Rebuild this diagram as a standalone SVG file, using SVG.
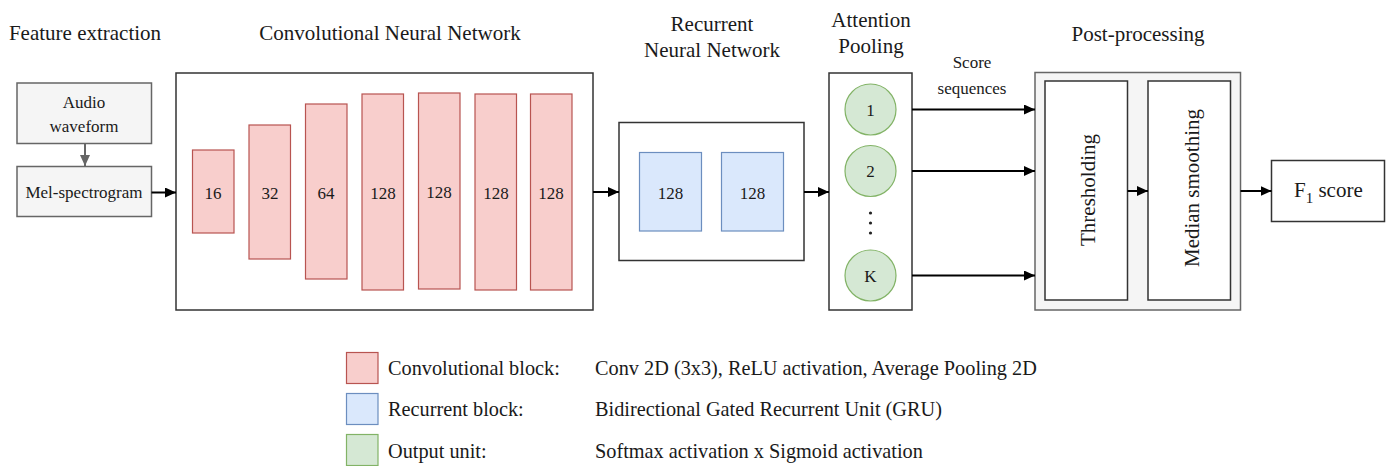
<svg xmlns="http://www.w3.org/2000/svg" width="1390" height="466" viewBox="0 0 1390 466">
<defs>
<marker id="ah" markerUnits="userSpaceOnUse" markerWidth="12" markerHeight="10" refX="11" refY="5" orient="auto">
<path d="M0,0 L11,5 L0,10 Z" fill="#000"/>
</marker>
<marker id="ahg" markerUnits="userSpaceOnUse" markerWidth="12" markerHeight="10" refX="11" refY="5" orient="auto">
<path d="M0,0 L11,5 L0,10 Z" fill="#666"/>
</marker>
<style>
text{font-family:"Liberation Serif","Times New Roman",serif;fill:#1a1a1a}
.t{font-size:21px;text-anchor:middle}
.n{font-size:17px;text-anchor:middle}
.lg{font-size:20.3px}
.grey{fill:#f5f5f5;stroke:#666;stroke-width:1.5}
.frame{fill:#fff;stroke:#333;stroke-width:1.5}
.red{fill:#f8cecc;stroke:#b85450;stroke-width:1.2}
.blue{fill:#dae8fc;stroke:#6c8ebf;stroke-width:1.2}
.green{fill:#d5e8d4;stroke:#82b366;stroke-width:1.2}
.c{stroke:#000;stroke-width:2;fill:none;marker-end:url(#ah)}
</style>
</defs>

<g id="titles">
<text class="t" x="85" y="40">Feature extraction</text>
<text class="t" x="390" y="40">Convolutional Neural Network</text>
<text class="t" x="712" y="31">Recurrent</text>
<text class="t" x="712" y="57">Neural Network</text>
<text class="t" x="871" y="27">Attention</text>
<text class="t" x="871" y="53">Pooling</text>
<text class="t" x="1138" y="41">Post-processing</text>
</g>

<g id="audio">
<rect class="grey" x="17" y="83" width="134.5" height="60.5"/>
<text class="n" x="84" y="108">Audio</text>
<text class="n" x="84" y="132">waveform</text>
</g>
<g id="mel">
<rect class="grey" x="17" y="166.5" width="134.5" height="50"/>
<text class="n" x="84" y="198">Mel-spectrogram</text>
</g>

<g id="cnn">
<rect class="frame" x="176" y="73" width="417" height="237"/>
<g id="conv1"><rect class="red" x="192.5" y="150" width="41.5" height="83"/><text class="n" x="213" y="199">16</text></g>
<g id="conv2"><rect class="red" x="249" y="125" width="41.5" height="134"/><text class="n" x="270" y="199">32</text></g>
<g id="conv3"><rect class="red" x="305.5" y="104" width="41.5" height="175"/><text class="n" x="326" y="199">64</text></g>
<g id="conv4"><rect class="red" x="362" y="94" width="41.5" height="196"/><text class="n" x="383" y="199">128</text></g>
<g id="conv5"><rect class="red" x="418.5" y="93" width="41.5" height="196"/><text class="n" x="439" y="198">128</text></g>
<g id="conv6"><rect class="red" x="475" y="94" width="41.5" height="196"/><text class="n" x="496" y="199">128</text></g>
<g id="conv7"><rect class="red" x="530.5" y="94" width="41.5" height="196"/><text class="n" x="551" y="199">128</text></g>
</g>

<g id="rnn">
<rect class="frame" x="619" y="122.5" width="185" height="138"/>
<g id="gru1"><rect class="blue" x="639.5" y="152.5" width="62" height="78.5"/><text class="n" x="670.5" y="199">128</text></g>
<g id="gru2"><rect class="blue" x="721.5" y="152.5" width="62" height="78.5"/><text class="n" x="752.5" y="199">128</text></g>
</g>

<g id="attention">
<rect class="frame" x="829" y="73" width="83" height="237"/>
<g id="out1"><circle class="green" cx="870.5" cy="109.5" r="25.5"/><text class="n" x="870.5" y="115.5">1</text></g>
<g id="out2"><circle class="green" cx="870.5" cy="171" r="25.5"/><text class="n" x="870.5" y="177">2</text></g>
<circle cx="870.5" cy="213" r="1.6" fill="#222"/>
<circle cx="870.5" cy="223" r="1.6" fill="#222"/>
<circle cx="870.5" cy="233" r="1.6" fill="#222"/>
<g id="outK"><circle class="green" cx="870.5" cy="275.5" r="25.5"/><text class="n" x="870.5" y="281.5">K</text></g>
</g>

<g id="postprocessing">
<rect x="1035" y="72.5" width="205.5" height="237.5" fill="#f5f5f5" stroke="#666" stroke-width="1.5"/>
<g id="thresholding">
<rect x="1045" y="81" width="82.5" height="219" fill="#fff" stroke="#333" stroke-width="1.5"/>
<text class="t" transform="translate(1088,190) rotate(-90)" x="0" y="7">Thresholding</text>
</g>
<g id="median">
<rect x="1148" y="81" width="82.5" height="219" fill="#fff" stroke="#333" stroke-width="1.5"/>
<text class="t" transform="translate(1191.5,188) rotate(-90)" x="0" y="7">Median smoothing</text>
</g>
</g>

<g id="f1">
<rect x="1271.5" y="160.5" width="113" height="61" fill="#fff" stroke="#333" stroke-width="1.5"/>
<text x="1294" y="197" style="font-size:21px">F<tspan dy="6" style="font-size:15px">1</tspan><tspan dy="-6"> score</tspan></text>
</g>

<g id="connectors">
<line x1="85" y1="143.5" x2="85" y2="166" stroke="#666" stroke-width="2" marker-end="url(#ahg)"/>
<line class="c" x1="151.5" y1="192.5" x2="176" y2="192.5"/>
<line class="c" x1="593" y1="192" x2="619" y2="192"/>
<line class="c" x1="804" y1="192" x2="829" y2="192"/>
<line class="c" x1="912" y1="109.5" x2="1035" y2="109.5"/>
<line class="c" x1="912" y1="171" x2="1035" y2="171"/>
<line class="c" x1="912" y1="275.5" x2="1035" y2="275.5"/>
<line class="c" x1="1127.5" y1="191" x2="1148" y2="191"/>
<line class="c" x1="1240.5" y1="191" x2="1271.5" y2="191"/>
<text class="n" x="972" y="68">Score</text>
<text class="n" x="972" y="94">sequences</text>
</g>

<g id="legend">
<rect class="red" x="346.5" y="352.5" width="31.5" height="31"/>
<rect class="blue" x="346.5" y="393.5" width="31.5" height="31"/>
<rect class="green" x="346.5" y="434.5" width="31.5" height="31"/>
<text class="lg" x="388" y="375">Convolutional block:</text>
<text class="lg" x="388" y="416">Recurrent block:</text>
<text class="lg" x="388" y="458">Output unit:</text>
<text class="lg" x="595" y="375">Conv 2D (3x3), ReLU activation, Average Pooling 2D</text>
<text class="lg" x="595" y="416">Bidirectional Gated Recurrent Unit (GRU)</text>
<text class="lg" x="595" y="458">Softmax activation x Sigmoid activation</text>
</g>
</svg>
